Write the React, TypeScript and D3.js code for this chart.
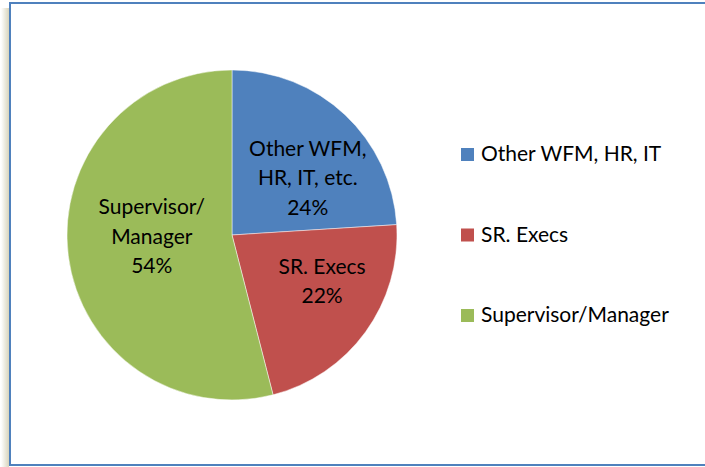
import { useRef, useEffect } from 'react';
import * as d3 from 'd3';

const CATEGORIES = ['Other WFM, HR, IT', 'SR. Execs', 'Supervisor/Manager'];
const SLICE_LABELS = [['Other WFM,', 'HR, IT, etc.'], ['SR. Execs'], ['Supervisor/', 'Manager']];
const VALUES = [24, 22, 54];
const COLORS = ['#4f81bd', '#c0504d', '#9bbb59'];

const W = 705;
const H = 467;
const FONT = 'Lato, "Open Sans", sans-serif';
const FS = 21;

export default function App() {
  const ref = useRef<SVGSVGElement>(null);

  useEffect(() => {
    const svg = d3.select(ref.current);
    svg.selectAll('*').remove();
    svg.attr('viewBox', `0 0 ${W} ${H}`).attr('width', W).attr('height', H);

    // ─── Frame + shadow ────────────────────────────────────────────────
    const defs = svg.append('defs');
    const grad = defs.append('linearGradient').attr('id', 'shadow').attr('x1', 0).attr('x2', 1);
    grad.append('stop').attr('offset', 0).attr('stop-color', '#ffffff');
    grad.append('stop').attr('offset', 1).attr('stop-color', '#d8d4bc');
    svg.append('rect').attr('x', 1).attr('y', 8).attr('width', 8).attr('height', H - 8).attr('fill', 'url(#shadow)');
    svg.append('rect').attr('x', 10).attr('y', 3).attr('width', W + 20).attr('height', 462)
      .attr('fill', '#fff').attr('stroke', '#4f81bd').attr('stroke-width', 2);

    // ─── Pie ───────────────────────────────────────────────────────────
    const cx = 232, cy = 235, r = 165;
    const data = VALUES.map((v, i) => ({ value: v, i }));
    const pie = d3.pie<{ value: number; i: number }>().value(d => d.value).sort(null);
    const arcs = pie(data);
    const arc = d3.arc<d3.PieArcDatum<{ value: number; i: number }>>().innerRadius(0).outerRadius(r);
    const g = svg.append('g').attr('transform', `translate(${cx},${cy})`);

    g.selectAll('path').data(arcs).join('path')
      .attr('d', arc)
      .attr('fill', d => COLORS[d.data.i])
      .attr('stroke', '#fff').attr('stroke-opacity', 0.6).attr('stroke-width', 0.8);

    // Slice labels (Excel "best fit" positions, roughly)
    const labelArc = d3.arc<d3.PieArcDatum<{ value: number; i: number }>>().innerRadius(r * 0.6).outerRadius(r * 0.6);
    const nudge = [[8, 15], [10, -12], [18, -11]];
    arcs.forEach(d => {
      const [x, y] = labelArc.centroid(d);
      const lines = [...SLICE_LABELS[d.data.i], d.data.value + '%'];
      const lh = 29.5;
      const top = y + nudge[d.data.i][1] - ((lines.length - 1) * lh) / 2;
      const t = g.append('text')
        .attr('text-anchor', 'middle')
        .attr('font-family', FONT).attr('font-size', FS).attr('fill', '#000');
      lines.forEach((ln, k) => {
        t.append('tspan')
          .attr('x', x + nudge[d.data.i][0])
          .attr('y', top + k * lh)
          .attr('dy', '0.35em')
          .text(ln);
      });
    });

    // ─── Legend ────────────────────────────────────────────────────────
    const legend = svg.append('g').attr('transform', 'translate(461,148)');
    const row = d3.scalePoint<string>().domain(CATEGORIES).range([0, 161]);
    CATEGORIES.forEach((c, i) => {
      const gy = row(c) ?? 0;
      legend.append('rect').attr('x', 0).attr('y', gy).attr('width', 13).attr('height', 13).attr('fill', COLORS[i]);
      legend.append('text').attr('x', 20).attr('y', gy + 13)
        .attr('font-family', FONT).attr('font-size', FS).attr('fill', '#000')
        .text(c);
    });
  }, []);

  return (
    <div style={{ position: 'absolute', left: 0, top: 0, width: W, height: H, background: '#fff' }}>
      <svg ref={ref} style={{ display: 'block' }} />
    </div>
  );
}
